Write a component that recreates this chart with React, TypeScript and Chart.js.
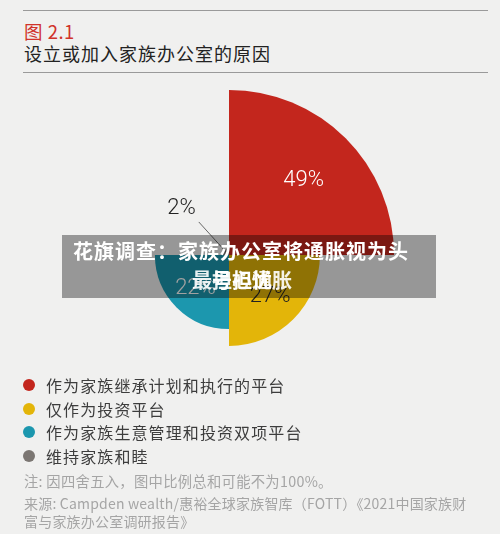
import React, { useEffect, useRef } from "react";
import { Chart, registerables } from "chart.js";

Chart.register(...registerables);

const categories = [
  "作为家族继承计划和执行的平台",
  "仅作为投资平台",
  "作为家族生意管理和投资双项平台",
  "维持家族和睦",
];
const values = [49, 27, 22, 2];
const labelTexts = ["49%", "27%", "22%", "2%"];
const colors = ["#c3261d", "#e3b509", "#1c97ae", "#7b7672"];
const labelColors = ["#ffffff", "#222222", "#ffffff", "#222222"];

const CJK = '"Noto Sans CJK SC", "Noto Sans", sans-serif';

const labelPlugin = {
  id: "sliceLabels",
  afterDatasetsDraw(chart: any) {
    const ctx = chart.ctx;
    const meta = chart.getDatasetMeta(0);
    ctx.save();
    ctx.font = '300 22px Roboto, "Liberation Sans", sans-serif';
    ctx.textAlign = "center";
    ctx.textBaseline = "middle";
    meta.data.forEach((arc: any, i: number) => {
      const p = arc.getProps(["x", "y", "startAngle", "endAngle", "outerRadius"], true);
      const mid = (p.startAngle + p.endAngle) / 2;
      if (p.outerRadius > 30) {
        const r = p.outerRadius * 0.64;
        ctx.fillStyle = labelColors[i];
        ctx.fillText(labelTexts[i], p.x + Math.cos(mid) * r, p.y + Math.sin(mid) * r);
      } else {
        const r = p.outerRadius + 52;
        const lx = p.x + Math.cos(mid) * r;
        const ly = p.y + Math.sin(mid) * r;
        ctx.strokeStyle = "#444";
        ctx.lineWidth = 0.8;
        ctx.beginPath();
        ctx.moveTo(p.x + Math.cos(mid) * (r - 16), p.y + Math.sin(mid) * (r - 12));
        ctx.lineTo(p.x + Math.cos(mid) * 4, p.y + Math.sin(mid) * 4);
        ctx.stroke();
        ctx.fillStyle = labelColors[i];
        ctx.fillText(labelTexts[i], lx - 6, ly - 5);
      }
    });
    ctx.restore();
  },
};

export default function App() {
  const ref = useRef<HTMLCanvasElement | null>(null);
  useEffect(() => {
    if (!ref.current) return;
    const chart = new Chart(ref.current, {
      type: "polarArea",
      data: {
        labels: categories,
        datasets: [
          {
            data: values,
            backgroundColor: colors,
            borderWidth: 0,
          },
        ],
      },
      options: {
        responsive: false,
        animation: false,
        layout: { padding: { left: 64, right: 106, top: 90, bottom: 114 } },
        scales: {
          r: { display: false, min: 0, max: 49 },
        },
        plugins: {
          legend: { display: false },
          tooltip: { enabled: false },
        },
      },
      plugins: [labelPlugin],
    });
    return () => chart.destroy();
  }, []);

  const legendRows = categories.map((c, i) => (
    <div
      key={c}
      style={{
        position: "absolute",
        left: 23,
        top: 375 + i * 23.5,
        display: "flex",
        alignItems: "center",
        height: 20,
      }}
    >
      <span
        style={{
          display: "inline-block",
          width: 12,
          height: 12,
          borderRadius: 6,
          background: colors[i],
          marginRight: 11,
        }}
      />
      <span style={{ fontSize: 16, color: "#3d3d3d", fontFamily: CJK, letterSpacing: 1.1 }}>{c}</span>
    </div>
  ));

  return (
    <div
      style={{
        position: "fixed",
        left: 0,
        top: 0,
        width: 500,
        height: 534,
        background: "#f0f0ef",
        overflow: "hidden",
        fontFamily: CJK,
      }}
    >
      <div style={{ position: "absolute", left: 23, top: 10, width: 465, height: 1, background: "#9a9a9a" }} />
      <div style={{ position: "absolute", left: 24, top: 20, fontSize: 18.5, color: "#d0332b", lineHeight: "22px", letterSpacing: 0.5 }}>
        图 2.1
      </div>
      <div style={{ position: "absolute", left: 24, top: 42, fontSize: 18, color: "#222", lineHeight: "22px", letterSpacing: 1 }}>
        设立或加入家族办公室的原因
      </div>
      <div style={{ position: "absolute", left: 23, top: 72, width: 465, height: 1, background: "#9a9a9a" }} />
      <canvas ref={ref} width={500} height={534} style={{ position: "absolute", left: 0, top: 0 }} />
      {legendRows}
      <div style={{ position: "absolute", left: 24, top: 472, fontSize: 14.3, color: "#a5a5a5", lineHeight: "18px", letterSpacing: 0.3 }}>
        注: 因四舍五入，图中比例总和可能不为100%。
      </div>
      <div style={{ position: "absolute", left: 24, top: 494, width: 476, fontSize: 14, color: "#a5a5a5", lineHeight: "18px", letterSpacing: 0.2, whiteSpace: "nowrap" }}>
        来源: Campden wealth/惠裕全球家族智库（FOTT）《2021中国家族财
        <br />
        富与家族办公室调研报告》
      </div>
      <div
        style={{
          position: "absolute",
          left: 62,
          top: 235,
          width: 374,
          height: 63,
          background: "rgba(0,0,0,0.37)",
        }}
      />
      <div
        style={{
          position: "absolute",
          left: 73,
          top: 239,
          fontSize: 20,
          fontWeight: 700,
          color: "#fff",
          lineHeight: "24px",
          letterSpacing: 1,
          whiteSpace: "nowrap",
        }}
      >
        花旗调查：家族办公室将通胀视为头
      </div>
      <div
        style={{
          position: "absolute",
          left: 188,
          top: 268,
          width: 108,
          textAlign: "center",
          fontSize: 20,
          fontWeight: 700,
          color: "#fff",
          lineHeight: "24px",
          whiteSpace: "nowrap",
        }}
      >
        号担忧
      </div>
      <div
        style={{
          position: "absolute",
          left: 188,
          top: 268,
          width: 108,
          textAlign: "center",
          fontSize: 20,
          fontWeight: 700,
          color: "#fff",
          lineHeight: "24px",
          whiteSpace: "nowrap",
          opacity: 0.9,
        }}
      >
        最担心通胀
      </div>
    </div>
  );
}
